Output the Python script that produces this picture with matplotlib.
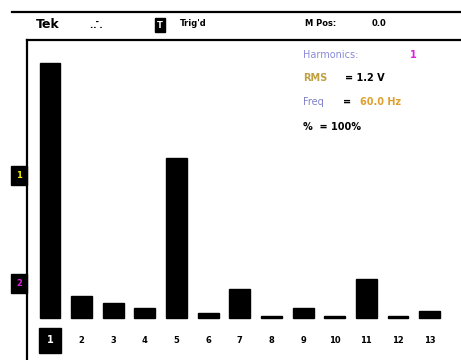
import matplotlib
matplotlib.use("Agg")
import matplotlib.pyplot as plt
from matplotlib.lines import Line2D

harmonics = list(range(1, 14))
labels = [str(h) for h in harmonics]
values = [100, 8.6, 5.9, 3.9, 62.7, 2.0, 11.4, 0.8, 3.9, 0.8, 15.3, 0.8, 2.7]

W, H = 461, 360
fig = plt.figure(figsize=(W / 100, H / 100), dpi=100)
fig.patch.set_facecolor("white")

def fx(px):
    return px / W

def fy(py):
    return 1 - py / H

# main axes: left 27px, top 40px, to right/bottom edges
ax = fig.add_axes([fx(27), 0, 1 - fx(27), fy(40)])
ax.set_xlim(0.273, 13.99)
ax.set_ylim(-16.5, 109)
ax.bar(harmonics, values, width=0.66, color="black", edgecolor="black")
for s in ["right", "bottom"]:
    ax.spines[s].set_visible(False)
ax.spines["left"].set_linewidth(1.6)
ax.spines["top"].set_linewidth(1.6)
ax.set_xticks([])
ax.set_yticks([])

for h, lab in zip(harmonics, labels):
    if h == 1:
        ax.text(h, -8.8, lab, ha="center", va="center", fontsize=7, fontweight="bold",
                color="white",
                bbox=dict(boxstyle="square,pad=0.75", fc="black", ec="black"))
    else:
        ax.text(h, -8.8, lab, ha="center", va="center", fontsize=6, fontweight="bold",
                color="black")

# header line
fig.add_artist(Line2D([fx(12), 1], [fy(12), fy(12)], color="black", lw=1.6))

fig.text(fx(36), fy(25), "Tek", fontsize=9, fontweight="bold", va="center")
fig.text(fx(90), fy(25), ".. ̄.", fontsize=6, fontweight="bold", va="center")
fig.text(fx(160), fy(25), "T", fontsize=6, fontweight="bold", va="center", ha="center",
         color="white", bbox=dict(boxstyle="square,pad=0.25", fc="black", ec="black"))
fig.text(fx(180), fy(24), "Trig'd", fontsize=6, fontweight="bold", va="center")
fig.text(fx(305), fy(24), "M Pos:", fontsize=6, fontweight="bold", va="center")
fig.text(fx(372), fy(24), "0.0", fontsize=6, fontweight="bold", va="center")

# info panel
fs = 7
fig.text(fx(303), fy(55), "Harmonics:", fontsize=fs, color="#8a8ad8", va="center")
fig.text(fx(410), fy(55), "1", fontsize=fs, color="#e020e0", fontweight="bold", va="center")
fig.text(fx(303), fy(78), "RMS", fontsize=fs, color="#c0a040", fontweight="bold", va="center")
fig.text(fx(345), fy(78), "= 1.2 V", fontsize=fs, color="black", fontweight="bold", va="center")
fig.text(fx(303), fy(102), "Freq", fontsize=fs, color="#8080c8", va="center")
fig.text(fx(343), fy(102), "=", fontsize=fs, color="black", fontweight="bold", va="center")
fig.text(fx(360), fy(102), "60.0 Hz", fontsize=fs, color="#e0a030", fontweight="bold", va="center")
fig.text(fx(303), fy(127), "%  = 100%", fontsize=fs, color="black", fontweight="bold", va="center")

# channel markers
fig.text(fx(19), fy(175), "1", fontsize=6, fontweight="bold", color="#f0f000", ha="center",
         va="center", bbox=dict(boxstyle="square,pad=0.6", fc="black", ec="black"))
fig.text(fx(19), fy(283), "2", fontsize=6, fontweight="bold", color="#e020e0", ha="center",
         va="center", bbox=dict(boxstyle="square,pad=0.6", fc="black", ec="black"))

fig.savefig("out.png", dpi=100)
